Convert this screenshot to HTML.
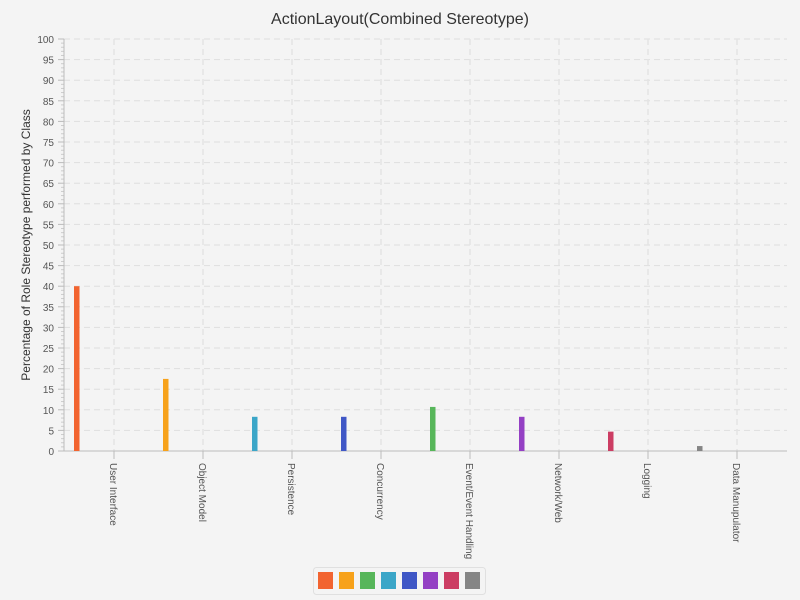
<!DOCTYPE html>
<html><head><meta charset="utf-8"><style>
html,body{margin:0;background:#f4f4f4;font-family:"Liberation Sans",sans-serif;overflow:hidden}
svg{display:block}
</style></head><body>
<svg id="c" width="800" height="600" xmlns="http://www.w3.org/2000/svg">
<rect width="800" height="600" fill="#f4f4f4"/>
<text x="400" y="24" text-anchor="middle" font-size="16" fill="#333">ActionLayout(Combined Stereotype)</text>
<text transform="translate(30,245) rotate(-90)" text-anchor="middle" font-size="12" fill="#333">Percentage of Role Stereotype performed by Class</text>
<g id="grid"></g><g id="axes"></g><g id="bars"></g><g id="legend"></g>
</svg>
<script>
const categories=["User Interface","Object Model","Persistence","Concurrency","Event/Event Handling","Network/Web","Logging","Data Manupulator"];
const values=[40,17.5,8.3,8.3,10.7,8.3,4.7,1.2];
const barColors=["#f26430","#f7a21b","#3ba6c8","#3f57c6","#57b65a","#9440c4","#cc3d63","#858585"];
const legendColors=["#f26430","#f7a21b","#57b65a","#3ba6c8","#3f57c6","#9440c4","#cc3d63","#858585"];
const yTicks=[0,5,10,15,20,25,30,35,40,45,50,55,60,65,70,75,80,85,90,95,100];
const NS="http://www.w3.org/2000/svg";
function y(v){return 451-v*4.12;}
function cx(i){return 114+89*i;}
function mk(t,a,p){const e=document.createElementNS(NS,t);for(const k in a)e.setAttribute(k,a[k]);p.appendChild(e);return e;}
const grid=document.getElementById('grid'),axes=document.getElementById('axes'),bars=document.getElementById('bars'),lg=document.getElementById('legend');
yTicks.forEach(v=>{
 if(v>0){const l=mk('line',{x1:64,x2:787,y1:y(v),y2:y(v),stroke:'#dedede','stroke-dasharray':'6,4'},grid);
 
 }
 const t=mk('text',{x:54,y:y(v)+4,'text-anchor':'end','font-size':'10',fill:'#555'},axes);t.textContent=v;
 
 
 mk('line',{x1:58,x2:64,y1:y(v),y2:y(v),stroke:'#bbb'},axes);
});
for(let v=0;v<100;v++){if(v%5)mk('line',{x1:61,x2:64,y1:y(v),y2:y(v),stroke:'#ccc'},axes);}
categories.forEach((c,i)=>{
 const g=mk('line',{x1:cx(i),x2:cx(i),y1:39,y2:451,stroke:'#e4e4e4','stroke-dasharray':'6,4','stroke-width':1.5},grid);
 
 
 mk('line',{x1:cx(i),x2:cx(i),y1:451,y2:459,stroke:'#bbb'},axes);
 const t=mk('text',{transform:`translate(${cx(i)-4},463) rotate(90)`,'font-size':'10',fill:'#555'},axes);t.textContent=c;
 
 
 const b=mk('rect',{x:cx(i)-40,y:y(values[i]),width:5.5,height:451-y(values[i]),fill:barColors[i]},bars);
 
 
 const s=mk('rect',{x:318+21*i,y:572,width:15,height:17,fill:legendColors[i]},lg);
 
 
});
mk('line',{x1:64,x2:64,y1:39,y2:451,stroke:'#bbb'},axes);
mk('line',{x1:64,x2:787,y1:451,y2:451,stroke:'#bbb'},axes);
const box=mk('rect',{x:313.5,y:567.5,width:172,height:27,rx:3,fill:'none',stroke:'#e0e0e0'},lg);


</script>
</body></html>
